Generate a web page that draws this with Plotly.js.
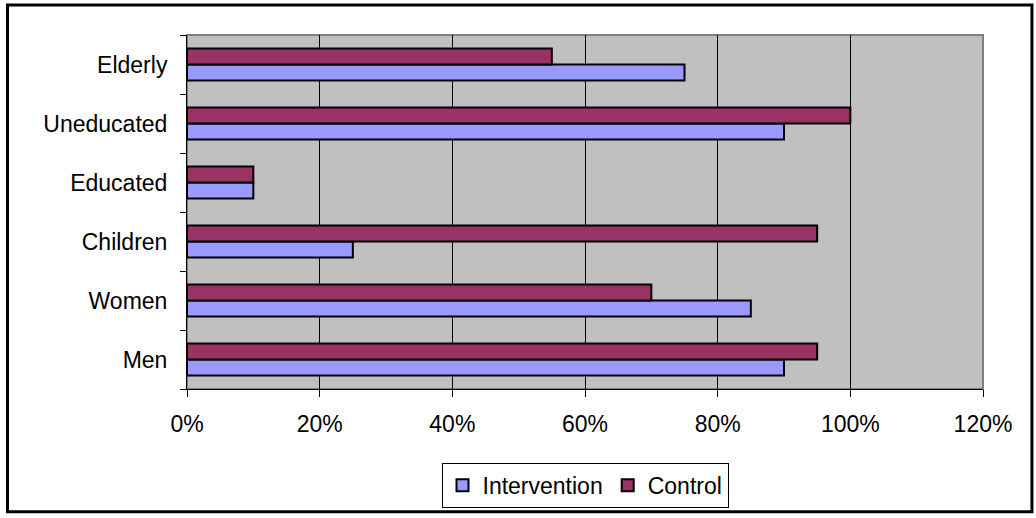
<!DOCTYPE html>
<html>
<head>
<meta charset="utf-8">
<script src="https://cdn.plot.ly/plotly-3.0.1.min.js"></script>
<style>
html,body{margin:0;padding:0;background:#fff;}
#chart{width:1036px;height:518px;}
</style>
</head>
<body>
<div id="chart"></div>
<script>
var categories = ["Men", "Women", "Children", "Educated", "Uneducated", "Elderly"];
var intervention = [0.90, 0.85, 0.25, 0.10, 0.90, 0.75];
var control = [0.95, 0.70, 0.95, 0.10, 1.00, 0.55];
var xTickVals = [0, 0.2, 0.4, 0.6, 0.8, 1.0, 1.2];
var xTickText = ["0%", "20%", "40%", "60%", "80%", "100%", "120%"];

var font = {family: "Liberation Sans, Arial, sans-serif", size: 23, color: "#000"};

var traces = [
  {type: "bar", orientation: "h", name: "Intervention", y: categories, x: intervention,
   marker: {color: "#9999ff", line: {color: "#000", width: 2}}},
  {type: "bar", orientation: "h", name: "Control", y: categories, x: control,
   marker: {color: "#993366", line: {color: "#000", width: 2}}}
];

var layout = {
  width: 1036, height: 518,
  margin: {l: 187, r: 53, t: 35, b: 128},
  paper_bgcolor: "#ffffff",
  plot_bgcolor: "#c0c0c0",
  font: font,
  barmode: "group",
  bargap: 0.46,
  bargroupgap: 0,
  showlegend: true,
  legend: {orientation: "h", x: 0.5, xanchor: "center", y: -0.205, yanchor: "top",
    bordercolor: "#000", borderwidth: 1, font: font, itemwidth: 30, tracegroupgap: 0,
    traceorder: "normal"},
  xaxis: {range: [0, 1.2], tickvals: xTickVals, ticktext: xTickText,
    showgrid: true, gridcolor: "#000", gridwidth: 1, zeroline: false,
    ticks: "outside", ticklen: 7, tickcolor: "#000", tickwidth: 1,
    showline: true, linecolor: "#000", linewidth: 1, mirror: false,
    ticklabelstandoff: 7, fixedrange: true},
  yaxis: {type: "category", tickson: "boundaries", ticks: "outside", ticklen: 6,
    tickcolor: "#000", tickwidth: 1, showgrid: false, showline: true,
    linecolor: "#000", linewidth: 1, ticklabelstandoff: 14, fixedrange: true},
  shapes: [
    {type: "rect", xref: "paper", yref: "paper", x0: 0, x1: 1, y0: 0, y1: 1,
     line: {color: "#808080", width: 2}, fillcolor: "rgba(0,0,0,0)", layer: "below"},
    {type: "rect", xref: "paper", yref: "paper", x0: -0.2255, x1: 1.0615, y0: -0.3465, y1: 1.0845,
     line: {color: "#000", width: 3}, fillcolor: "rgba(0,0,0,0)"}
  ]
};

Plotly.newPlot("chart", traces, layout, {displayModeBar: false, staticPlot: true});
</script>
</body>
</html>
